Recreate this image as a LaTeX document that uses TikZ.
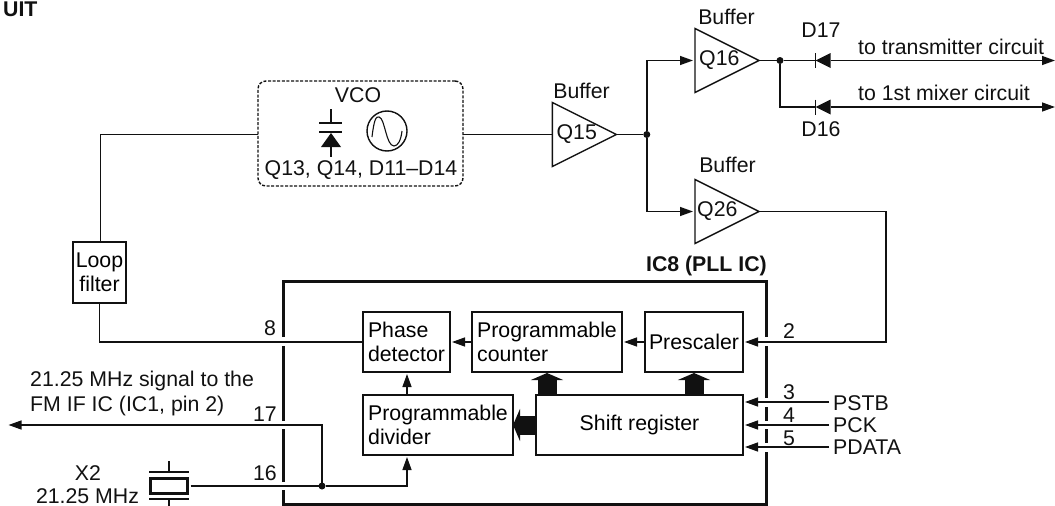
\documentclass[tikz,border=0pt]{standalone}
\usepackage{fontspec}
\setmainfont{Liberation Sans}
\usetikzlibrary{arrows.meta,calc,shapes.geometric}
\definecolor{ink}{HTML}{111111}
\tikzset{
  font=\fontsize{21.3}{25}\selectfont,
  >={Triangle[length=13pt,width=9pt]},
  wire/.style={draw=ink, line width=1.4pt},
  flow/.style={wire, ->, shorten >=2pt},
  fatflow/.style={draw=ink, line width=19pt, -{Triangle[length=7pt,width=32pt]}},
  ictrace/.style={draw=ink, line width=3pt},
  block/.style={draw=ink, line width=1.4pt, align=left, minimum height=60pt,
    inner sep=0pt, outer sep=0pt},
  txt/.style={text=ink, inner sep=0pt, align=left},
  headtxt/.style={txt, font=\fontsize{21.3}{25}\selectfont\bfseries},
  buffer/.style={isosceles triangle, isosceles triangle stretches, draw=ink,
    line width=1.4pt, minimum width=64pt, minimum height=64pt,
    inner sep=0pt, outer sep=0pt},
  diode/.style={isosceles triangle, isosceles triangle stretches, fill=ink,
    shape border rotate=180, minimum width=15pt, minimum height=15pt,
    inner sep=0pt, outer sep=0pt},
  junction/.style={circle, fill=ink, minimum size=7pt, inner sep=0pt, outer sep=0pt}
}
\newcommand{\BufferIcon}[4]{%
  \node[buffer, anchor=lower side] (#1) at #2 {};
  \node[txt, anchor=west] (#1text) at ($(#1.lower side)+(#4,0)$) {#3};
}
\newcommand{\DiodeIcon}[2]{%
  \node[diode, anchor=apex] (#1) at #2 {};
  \draw[wire] ($(#1.apex)+(0,-7.5)$) -- ($(#1.apex)+(0,7.5)$);
}

\begin{document}
\begin{tikzpicture}[x=1pt,y=-1pt]
  \useasboundingbox (0,0) rectangle (1055,506);
  \node[headtxt, anchor=west] (title) at (3,9) {UIT};

  % ------------------------------------------------------------------
  % VCO
  \node[draw=ink, dash pattern=on 3pt off 1.6pt, line width=1.4pt, rounded corners=8pt,
    minimum width=205pt, minimum height=105pt, inner sep=0pt, outer sep=0pt]
    (vco) at (360.5,133.5) {};
  \node[txt] (vcotext) at (358,95) {VCO};
  \node[txt] (vcoparts) at (361,170) {Q13, Q14, D11--D14};
  \draw[wire] (331,109) -- (331,123) (319,123) -- (342,123) (319,132) -- (342,132)
    (331,147) -- (331,157);
  \fill[ink] (331,133) -- (341,147) -- (321,147) -- cycle;
  \node[circle, draw=ink, line width=1.4pt, minimum size=40pt, inner sep=0pt] (osc) at (387,131) {};
  \draw[draw=ink, line width=1.1pt] (372,137) .. controls (374,120) and (376,116) .. (379,117)
    .. controls (385,118) and (386,146) .. (394,146)
    .. controls (398,146) and (401,140) .. (402,131);

  % ------------------------------------------------------------------
  % Buffers
  \BufferIcon{qfifteen}{(552.4,134.5)}{Q15}{4}
  \BufferIcon{qsixteen}{(695,60.5)}{Q16}{4}
  \BufferIcon{qtwentysix}{(695,211.5)}{Q26}{2}
  \node[txt] (bufa) at (581.6,91) {Buffer};
  \node[txt] (bufb) at (726.5,17) {Buffer};
  \node[txt] (bufc) at (727.5,165) {Buffer};
  \node[junction] (splita) at (646.8,134.5) {};
  \node[junction] (splitb) at (780,60.5) {};

  \draw[wire] (vco.east |- qfifteen.lower side) -- (qfifteen.lower side);
  \draw[wire] (qfifteen.apex) -- (splita);
  \draw[flow] (splita) |- (qsixteen.lower side);
  \draw[flow] (splita) |- (qtwentysix.lower side);
  \draw[wire] (qsixteen.apex) -- (splitb);

  % ------------------------------------------------------------------
  % Output diodes
  \DiodeIcon{dseventeen}{(815.6,60.5)}
  \DiodeIcon{dsixteen}{(815.6,107)}
  \coordinate (txend) at (1055,60.5);
  \coordinate (mixend) at (1055,107);
  \draw[wire] (splitb) -- (dseventeen.apex);
  \draw[wire] (splitb) |- (dsixteen.apex);
  \draw[wire, ->] (dseventeen.lower side) -- (txend);
  \draw[wire, ->] (dsixteen.lower side) -- (mixend);
  \node[txt] (dseventeentext) at (821,30) {D17};
  \node[txt] (dsixteentext) at (821,129) {D16};
  \node[txt, anchor=west] (txtext) at (858,47) {to transmitter circuit};
  \node[txt, anchor=west] (mixtext) at (858,93) {to 1st mixer circuit};

  % ------------------------------------------------------------------
  % IC8 outline, broken where the pins pass
  \draw[ictrace] (283,337) -- (283,281) -- (766,281) -- (766,337)
    (766,346) -- (766,398) (766,407) -- (766,421) (766,429) -- (766,443)
    (766,452) -- (766,504) -- (283,504) -- (283,490)
    (283,482) -- (283,429) (283,421) -- (283,346);
  \node[headtxt, anchor=east] (ichead) at (767,266) {IC8 (PLL IC)};

  \node[block, minimum width=87pt] (phase) at (406.5,342)
    {Phase\\[-.5pt]detector};
  \node[block, minimum width=150pt] (counter) at (547,342)
    {Programmable\\[-.5pt]counter\hspace{62pt}};
  \node[block, minimum width=98pt] (prescaler) at (694,342) {Prescaler};
  \node[block, minimum width=207pt] (shiftreg) at (639.5,425) {Shift register};
  \node[block, minimum width=150pt] (divider) at (438,425)
    {Programmable\\[-.5pt]divider};
  \coordinate (divtap) at (407,425);
  \coordinate (pinc) at (789,402);
  \coordinate (pind) at (789,425);
  \coordinate (pine) at (789,447);

  \draw[flow] (counter) -- (phase);
  \draw[flow] (prescaler) -- (counter);
  \draw[flow] (divider.north -| divtap) -- (phase.south -| divtap);
  \draw[fatflow, shorten >=1pt] (shiftreg.north -| counter.south) -- (counter.south);
  \draw[fatflow, shorten >=1pt] (shiftreg.north -| prescaler.south) -- (prescaler.south);
  \draw[fatflow] (shiftreg.west) -- (divider.east);

  % ------------------------------------------------------------------
  % Loop filter and outside wiring
  \node[block, minimum width=53pt, minimum height=61pt, align=center] (loop) at (99.5,272.5)
    {Loop\\[-.5pt]filter};
  \draw[wire] (vco.west |- qfifteen.lower side) -| ($(loop.north)+(1,0)$);
  \draw[wire] (loop.south) |- (phase.west);
  \coordinate (pinb) at (886,342);
  \draw[flow] (qtwentysix.apex) -| (pinb) -- (prescaler.east);
  \node[txt] (pineight) at (270,328) {8};
  \node[txt] (pintwo) at (789,331) {2};

  \node[txt, anchor=west] (pstb) at (833,403) {PSTB};
  \node[txt, anchor=west] (pck) at (833,425) {PCK};
  \node[txt, anchor=west] (pdata) at (833,447) {PDATA};
  \draw[flow] ($(pstb.west)+(-4,-1)$) -- (shiftreg.east |- pinc);
  \draw[flow] ($(pck.west)+(-4,0)$) -- (shiftreg.east |- pind);
  \draw[flow] ($(pdata.west)+(-4,0)$) -- (shiftreg.east |- pine);
  \node[txt] (pinthree) at (789,392) {3};
  \node[txt] (pinfour) at (789,415) {4};
  \node[txt] (pinfive) at (789,438) {5};

  % ------------------------------------------------------------------
  % Crystal
  \node[draw=ink, line width=2.6pt, minimum width=37pt, minimum height=15pt,
    inner sep=0pt, outer sep=0pt] (crystal) at (169,486) {};
  \draw[wire] (169,461) -- (169,472) (149,472) -- (189,472)
    (149,499) -- (189,499) (169,499) -- (169,506);
  \node[txt] (xtal) at (88,473) {X2};
  \node[txt] (xtalfreq) at (87.5,496.5) {21.25 MHz};
  \node[junction] (splitc) at (322,486) {};
  \coordinate (ifend) at (8.5,425);
  \draw[wire] ($(crystal.east)+(3,0)$) -- (splitc);
  \draw[flow] (splitc) -| (divider.south -| divtap);
  \draw[wire, ->] (splitc) |- (ifend);
  \node[txt] (pinsixteen) at (265,473) {16};
  \node[txt] (pinseventeen) at (265,414) {17};
  \node[txt, anchor=west] (iftext) at (30,393.5)
    {21.25 MHz signal to the\\FM IF IC (IC1, pin 2)};
\end{tikzpicture}
\end{document}
